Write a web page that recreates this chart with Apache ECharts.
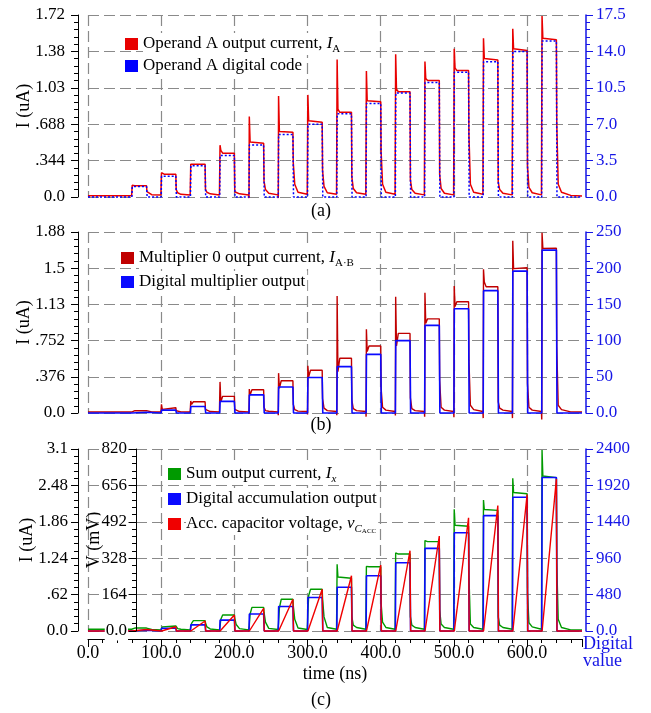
<!DOCTYPE html>
<html>
<head>
<meta charset="utf-8">
<title>Operand, multiplier and accumulation waveforms</title>
<script src="https://cdn.jsdelivr.net/npm/echarts@6/dist/echarts.min.js"></script>
<style>
  html, body { margin: 0; padding: 0; background: #fff; }
  #chart { width: 651px; height: 713px; }
</style>
</head>
<body>
<div id="chart"></div>
<script>
// pulse timing (ns)
const pulseStart = [60, 100, 140, 180, 220, 260, 300, 340, 380, 420, 460, 500, 540, 580, 620];
const pulseWidth = 20;
const timeMax = 675;

// tick labels
const xTickLabels = ['0.0', '100.0', '200.0', '300.0', '400.0', '500.0', '600.0'];
const ticksA = ['0.0', '.344', '.688', '1.03', '1.38', '1.72'];
const ticksARight = ['0.0', '3.5', '7.0', '10.5', '14.0', '17.5'];
const ticksB = ['0.0', '.376', '.752', '1.13', '1.5', '1.88'];
const ticksBRight = ['0.0', '50', '100', '150', '200', '250'];
const ticksCI = ['0.0', '.62', '1.24', '1.86', '2.48', '3.1'];
const ticksCV = ['0.0', '164', '328', '492', '656', '820'];
const ticksCRight = ['0.0', '480', '960', '1440', '1920', '2400'];

// (a) operand A: digital code and output current (uA)
const codeA = [1, 2, 3, 4, 5, 6, 7, 8, 9, 10, 11, 12, 13, 14, 15];
const dipA = [0.012, 0.02, 0.02, 0.02, -0.01, -0.01, 0.02, 0.02, 0.02, 0.02, 0.02, 0.02, 0.02, 0.02, 0.02];
const spikeA = [0.11, 0.23, 0.31, 0.49, 0.76, 0.955, 0.965, 1.30, 1.19, 1.35, 1.28, 1.40, 1.50, 1.59, 1.71];
const afterA = [0.107, 0.22, 0.32, 0.44, 0.52, 0.62, 0.72, 0.83, 0.91, 1.02, 1.12, 1.22, 1.31, 1.40, 1.50];
const levelA = [0.107, 0.216, 0.31, 0.414, 0.507, 0.611, 0.706, 0.80, 0.90, 0.995, 1.10, 1.195, 1.295, 1.385, 1.485];
const fallA = [0.05, 0.07, 0.07, 0.05, 0.15, 0.32, 0.25, 0.19, 0.43, 0.16, 0.21, 0.59, 0.14, 0.29, 0.70];
const tail1A = [0.035, 0.04, 0.045, 0.04, 0.07, 0.12, 0.1, 0.08, 0.12, 0.07, 0.08, 0.12, 0.07, 0.09, 0.12];
const tail2A = [0.022, 0.025, 0.03, 0.03, 0.035, 0.045, 0.04, 0.04, 0.045, 0.035, 0.035, 0.045, 0.035, 0.04, 0.045];
const tail3A = [0.018, 0.02, 0.02, 0.02, 0.02, 0.025, 0.025, 0.025, 0.025, 0.02, 0.02, 0.025, 0.02, 0.02, 0.015];

// (b) multiplier 0: digital product and output current (uA)
const codeB = [1, 4, 9, 16, 25, 36, 49, 64, 81, 100, 121, 144, 169, 196, 225];
const dipB = [0.008, 0.008, 0.008, 0.0, -0.01, -0.023, -0.015, -0.023, -0.038, -0.026, -0.038, -0.045, -0.053, -0.053, -0.068];
const spikeB = [0.023, 0.09, 0.125, 0.323, 0.248, 0.414, 0.49, 1.215, 0.869, 1.208, 1.248, 1.319, 1.493, 1.79, 1.872];
const afterB = [0.015, 0.038, 0.09, 0.117, 0.187, 0.256, 0.376, 0.429, 0.639, 0.696, 0.932, 1.105, 1.36, 1.50, 1.71];
const levelB = [0.024, 0.055, 0.117, 0.173, 0.241, 0.335, 0.444, 0.568, 0.696, 0.827, 0.978, 1.156, 1.312, 1.509, 1.711];
const fallB = [0.015, 0.023, 0.038, 0.038, 0.06, 0.09, 0.15, 0.135, 0.256, 0.158, 0.338, 0.549, 0.117, 0.308, 0.689];
const tail1B = [0.012, 0.015, 0.02, 0.02, 0.025, 0.035, 0.05, 0.045, 0.06, 0.045, 0.06, 0.08, 0.05, 0.06, 0.08];
const tail2B = [0.01, 0.012, 0.015, 0.015, 0.018, 0.02, 0.025, 0.025, 0.03, 0.025, 0.03, 0.035, 0.03, 0.03, 0.035];
const tail3B = [0.01, 0.01, 0.012, 0.012, 0.012, 0.015, 0.015, 0.015, 0.015, 0.015, 0.015, 0.015, 0.015, 0.015, 0.012];

// (c) accumulation: digital sum, sum current (uA), capacitor voltage (mV)
const codeC = [9, 36, 81, 144, 225, 324, 441, 576, 729, 900, 1089, 1296, 1521, 1764, 2025];
const dipG = [0.025, 0.02, 0.02, 0.02, 0.02, 0.025, 0.025, 0.03, 0.03, 0.03, 0.03, 0.03, 0.03, 0.03, 0.03];
const spikeG = [0.035, 0.04, 0.06, 0.08, 0.1, 0.14, 0.3, 1.135, 1.1, 1.33, 1.54, 2.073, 2.231, 2.6, 3.083];
const afterG = [0.045, 0.07, 0.13, 0.2, 0.29, 0.39, 0.6, 0.92, 1.1, 1.32, 1.53, 1.80, 2.07, 2.36, 2.64];
const levelG = [0.05, 0.085, 0.176, 0.273, 0.403, 0.54, 0.71, 0.898, 1.095, 1.311, 1.522, 1.783, 2.054, 2.338, 2.612];
const fallG = [0.04, 0.07, 0.14, 0.22, 0.32, 0.43, 0.55, 0.244, 0.471, 0.244, 0.358, 0.953, 0.244, 0.646, 1.152];
const tail1G = [0.03, 0.04, 0.07, 0.11, 0.15, 0.2, 0.24, 0.1, 0.15, 0.1, 0.12, 0.12, 0.1, 0.14, 0.2];
const tail2G = [0.025, 0.03, 0.035, 0.04, 0.045, 0.05, 0.06, 0.06, 0.06, 0.06, 0.06, 0.06, 0.06, 0.07, 0.06];
const tail3G = [0.02, 0.02, 0.02, 0.02, 0.025, 0.025, 0.03, 0.03, 0.03, 0.03, 0.03, 0.03, 0.03, 0.03, 0.02];
const peakV = [7, 19, 45, 72, 102, 143, 188, 249, 297, 362, 428, 510, 565, 615, 685];

const FONT = 'Liberation Serif';
const BLUE = '#1515e6';

// [time, value] table for an analog current with spike, plateau and decay per pulse
const currentTrace = (base, dip, spike, after, level, fall, t1, t2, t3, endVal) => {
  const pts = [[0, base], [pulseStart[0] - 0.4, base]];
  pulseStart.forEach((t0, i) => {
    const tf = t0 + pulseWidth;
    pts.push([t0, dip[i]], [t0 + 0.4, spike[i]], [t0 + 1.5, after[i]], [t0 + 4, level[i]],
      [tf, level[i]], [tf + 0.5, fall[i]], [tf + 2.5, t1[i]], [tf + 7, t2[i]], [t0 + 39.6, t3[i]]);
  });
  pts.push([timeMax, endVal]);
  return pts;
};

const digitalTrace = (code) => {
  const pts = [[0, 0]];
  pulseStart.forEach((t0, i) => {
    pts.push([t0, 0], [t0 + 0.5, code[i]], [t0 + pulseWidth, code[i]], [t0 + pulseWidth + 0.8, 0]);
  });
  pts.push([timeMax, 0]);
  return pts;
};

const rampTrace = (peak) => {
  const pts = [[0, 0]];
  pulseStart.forEach((t0, i) => {
    pts.push([t0 + 0.5, 0], [t0 + pulseWidth, peak[i]], [t0 + pulseWidth + 0.8, 0]);
  });
  pts.push([timeMax, 0]);
  return pts;
};

const gridLine = { show: true, showMaxLine: false, lineStyle: { color: '#8a8a8a', type: [11, 5], width: 1.2 } };

const xAxisOf = (grid, withLabels) => ({
  type: 'value', gridIndex: grid, min: 0, max: timeMax, interval: 100,
  splitLine: gridLine,
  axisLine: { show: withLabels, onZero: false, lineStyle: { color: '#000', width: 1 } },
  axisTick: { show: withLabels, length: 8, lineStyle: { color: '#000' } },
  minorTick: { show: withLabels, splitNumber: 5, length: 4, lineStyle: { color: '#000' } },
  axisLabel: {
    show: withLabels, color: '#000', fontFamily: FONT, fontSize: 18, margin: 5, showMaxLabel: false,
    formatter: (v) => xTickLabels[Math.round(v / 100)] || ''
  },
  offset: withLabels ? 8 : 0,
  name: withLabels ? 'time (ns)' : '',
  nameLocation: 'middle', nameGap: 26,
  nameTextStyle: { color: '#000', fontFamily: FONT, fontSize: 18 }
});

const yAxisOf = (grid, max, labels, opts) => {
  const step = max / (labels.length - 1);
  const color = opts.color || '#000';
  return {
    type: 'value', gridIndex: grid, position: opts.position || 'left', offset: opts.offset,
    min: 0, max: max, interval: step, z: opts.z || 0,
    axisLine: { show: true, onZero: false, lineStyle: { color: color, width: opts.lineWidth || 1 } },
    axisTick: { show: true, length: 7, lineStyle: { color: color } },
    minorTick: { show: true, splitNumber: 5, length: 4, lineStyle: { color: color } },
    axisLabel: {
      color: color, fontFamily: FONT, fontSize: 17, margin: opts.margin,
      backgroundColor: opts.labelBg || 'transparent', padding: opts.labelBg ? [1, 1] : 0,
      formatter: (v) => labels[Math.round(v / step)]
    },
    splitLine: opts.split ? Object.assign({}, gridLine, { showMaxLine: true }) : { show: false },
    name: opts.name || '', nameLocation: 'middle', nameGap: opts.nameGap || 0, nameRotate: 90,
    nameMoveOverlap: false,
    nameTextStyle: { color: '#000', fontFamily: FONT, fontSize: 18 }
  };
};

const legendRich = {
  n: { fontFamily: FONT, fontSize: 17, lineHeight: 22, color: '#000' },
  i: { fontFamily: FONT, fontSize: 17, lineHeight: 22, fontStyle: 'italic', color: '#000' },
  s: { fontFamily: FONT, fontSize: 11, lineHeight: 11, verticalAlign: 'bottom', color: '#000' },
  si: { fontFamily: FONT, fontSize: 11, lineHeight: 11, fontStyle: 'italic', verticalAlign: 'bottom', color: '#000' },
  ss: { fontFamily: FONT, fontSize: 7, lineHeight: 5, verticalAlign: 'bottom', color: '#000' }
};

const legendText = {
  'Operand A output current, IA': '{n|Operand A output current, }{i|I}{s|A}',
  'Operand A digital code': '{n|Operand A digital code}',
  'Multiplier 0 output current, IA·B': '{n|Multiplier 0 output current, }{i|I}{s|A·B}',
  'Digital multiplier output': '{n|Digital multiplier output}',
  'Sum output current, Ix': '{n|Sum output current, }{i|I}{si|x}',
  'Digital accumulation output': '{n|Digital accumulation output}',
  'Acc. capacitor voltage, vCACC': '{n|Acc. capacitor voltage, }{i|v}{si|C}{ss|ACC}'
};

const legendOf = (names, left, top, gap) => ({
  data: names, orient: 'vertical', left: left, top: top, itemGap: gap,
  icon: 'rect', itemWidth: 13, itemHeight: 12, selectedMode: false,
  itemStyle: { borderWidth: 0 },
  formatter: (name) => legendText[name],
  textStyle: { fontFamily: FONT, fontSize: 17, backgroundColor: '#fff', padding: [0, 2, 0, 0], rich: legendRich }
});

const lineSeries = (name, xi, yi, data, color, width, type, z) => ({
  name: name, type: 'line', xAxisIndex: xi, yAxisIndex: yi, data: data,
  symbol: 'none', clip: false, z: z,
  itemStyle: { color: color },
  lineStyle: { color: color, width: width, type: type || 'solid' }
});

const chart = echarts.init(document.getElementById('chart'));

chart.setOption({
  animation: false,
  backgroundColor: '#fff',
  grid: [
    { left: 88, right: 69, top: 15, height: 182 },
    { left: 88, right: 69, top: 232, height: 181 },
    { left: 88, right: 69, top: 449, height: 182 }
  ],
  xAxis: [xAxisOf(0, false), xAxisOf(1, false), xAxisOf(2, true)],
  yAxis: [
    yAxisOf(0, 1.72, ticksA, { offset: 10, margin: 13, split: true, name: 'I (uA)', nameGap: 45 }),
    yAxisOf(0, 17.5, ticksARight, { position: 'right', offset: 4, margin: 10, color: BLUE, lineWidth: 1.5 }),
    yAxisOf(1, 1.88, ticksB, { offset: 10, margin: 13, split: true, name: 'I (uA)', nameGap: 45 }),
    yAxisOf(1, 250, ticksBRight, { position: 'right', offset: 4, margin: 10, color: BLUE, lineWidth: 1.5 }),
    yAxisOf(2, 3.1, ticksCI, { offset: 10, margin: 10, split: true, name: 'I (uA)', nameGap: 42 }),
    yAxisOf(2, 820, ticksCV, { offset: -48, margin: 8, name: 'V (mV)', nameGap: 33, labelBg: '#fff', z: 5 }),
    yAxisOf(2, 2400, ticksCRight, { position: 'right', offset: 4, margin: 10, color: BLUE, lineWidth: 1.5 })
  ],
  legend: [
    legendOf(['Operand A output current, IA', 'Operand A digital code'], 120, 28, 0),
    legendOf(['Multiplier 0 output current, IA·B', 'Digital multiplier output'], 116, 242, 2),
    legendOf(['Sum output current, Ix', 'Digital accumulation output', 'Acc. capacitor voltage, vCACC'], 163, 458, 3)
  ],
  series: [
    lineSeries('Operand A output current, IA', 0, 0,
      currentTrace(0.012, dipA, spikeA, afterA, levelA, fallA, tail1A, tail2A, tail3A, 0.01), '#e80000', 1.5, 'solid', 2),
    lineSeries('Operand A digital code', 0, 1, digitalTrace(codeA), '#0000ff', 1.5, [2, 2], 3),
    lineSeries('Multiplier 0 output current, IA·B', 1, 2,
      currentTrace(0.01, dipB, spikeB, afterB, levelB, fallB, tail1B, tail2B, tail3B, 0.01), '#c00000', 1.4, 'solid', 2),
    lineSeries('Digital multiplier output', 1, 3, digitalTrace(codeB), '#0a0aff', 1.6, 'solid', 3),
    lineSeries('Sum output current, Ix', 2, 4,
      currentTrace(0.03, dipG, spikeG, afterG, levelG, fallG, tail1G, tail2G, tail3G, 0.02), '#009a00', 1.4, 'solid', 2),
    lineSeries('Digital accumulation output', 2, 6, digitalTrace(codeC), '#0a0aff', 1.6, 'solid', 3),
    lineSeries('Acc. capacitor voltage, vCACC', 2, 5, rampTrace(peakV), '#f00000', 1.4, 'solid', 4)
  ],
  graphic: [
    { type: 'text', x: 321, y: 211, style: { text: '(a)', fontFamily: FONT, fontSize: 18, fill: '#000', align: 'center', verticalAlign: 'middle' } },
    { type: 'text', x: 321, y: 425, style: { text: '(b)', fontFamily: FONT, fontSize: 18, fill: '#000', align: 'center', verticalAlign: 'middle' } },
    { type: 'text', x: 321, y: 700, style: { text: '(c)', fontFamily: FONT, fontSize: 18, fill: '#000', align: 'center', verticalAlign: 'middle' } },
    { type: 'text', x: 583, y: 636, style: { text: 'Digital\nvalue', fontFamily: FONT, fontSize: 18, lineHeight: 17, fill: BLUE, align: 'left', verticalAlign: 'top' } }
  ]
});
</script>
</body>
</html>
